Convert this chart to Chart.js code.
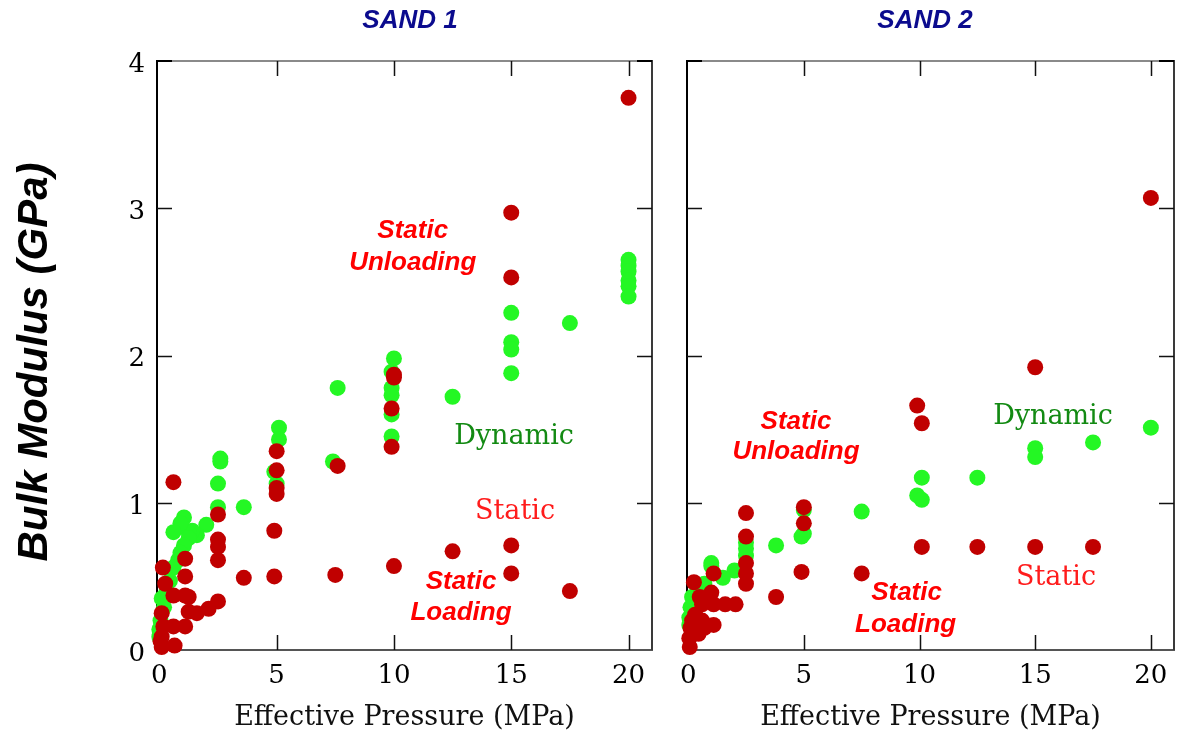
<!DOCTYPE html>
<html>
<head>
<meta charset="utf-8">
<script src="https://cdn.jsdelivr.net/npm/chart.js@4"></script>
<style>
  body { margin: 0; background: #fff; }
  #wrap { position: relative; width: 1182px; height: 739px; }
  canvas { position: absolute; top: 0; }
  #sand1 { left: 0; }
  #sand2 { left: 660px; }
</style>
</head>
<body>
<div id="wrap">
  <canvas id="sand1" width="660" height="739" style="width:660px;height:739px"></canvas>
  <canvas id="sand2" width="522" height="739" style="width:522px;height:739px"></canvas>
</div>
<script>
// tick values shared by both panels
const pressureTicks = [0, 5, 10, 15, 20];
const modulusTicks = [0, 1, 2, 3, 4];

// SAND 1 - dynamic bulk modulus (GPa) vs effective pressure (MPa)
const sand1DynP = [20, 20, 20, 20, 20, 20, 17.5, 15, 15, 15, 15, 12.5,
  10, 9.9, 9.9, 9.9, 9.9, 9.9, 7.6, 7.4, 5.1, 5.1, 4.9, 5.0, 3.6,
  2.6, 2.6, 2.5, 2.5, 2.0, 1.6, 1.4, 1.25, 1.25, 1.05, 1.05, 0.9, 0.9,
  0.6, 0.8, 0.6, 0.45, 0.3, 0.2, 0.1, 0.05, 0.0, 0.0];
const sand1DynK = [2.65, 2.61, 2.57, 2.51, 2.47, 2.40, 2.22, 2.29, 2.09, 2.04, 1.88, 1.72,
  1.98, 1.89, 1.78, 1.73, 1.60, 1.45, 1.78, 1.28, 1.51, 1.43, 1.21, 1.13, 0.97,
  1.30, 1.28, 1.13, 0.97, 0.85, 0.78, 0.81, 0.80, 0.76, 0.90, 0.71, 0.86, 0.66,
  0.80, 0.61, 0.56, 0.47, 0.39, 0.29, 0.35, 0.20, 0.14, 0.09];

// SAND 1 - static bulk modulus
const sand1StatP = [20, 15, 15, 15, 15, 17.5, 12.5,
  10, 10, 9.9, 9.9, 10, 7.6, 7.5,
  5.0, 5.0, 5.0, 5.0, 4.9, 4.9, 3.6,
  2.5, 2.5, 2.5, 2.5, 2.5, 2.1, 1.6, 1.25, 1.25,
  1.1, 1.1, 1.1, 1.1, 0.6, 0.6, 0.6, 0.65,
  0.25, 0.15, 0.1, 0.1, 0.1, 0.17, 0.05];
const sand1StatK = [3.75, 2.97, 2.53, 0.71, 0.52, 0.40, 0.67,
  1.87, 1.85, 1.64, 1.38, 0.57, 1.25, 0.51,
  1.35, 1.22, 1.10, 1.06, 0.81, 0.50, 0.49,
  0.92, 0.75, 0.70, 0.61, 0.33, 0.28, 0.25, 0.36, 0.26,
  0.62, 0.50, 0.37, 0.16, 1.14, 0.37, 0.16, 0.03,
  0.45, 0.56, 0.25, 0.09, 0.02, 0.16, 0.06];

// SAND 2 - dynamic bulk modulus
const sand2DynP = [20, 17.5, 15, 15, 12.5, 10.1, 9.9, 10.1, 7.5,
  5.0, 5.0, 4.9, 3.8, 2.5, 2.5, 2.5, 2.0, 1.5, 1.0, 1.0,
  0.7, 0.4, 0.17, 0.1, 0.05, 0.05];
const sand2DynK = [1.51, 1.41, 1.37, 1.31, 1.17, 1.17, 1.05, 1.02, 0.94,
  0.95, 0.79, 0.77, 0.71, 0.73, 0.69, 0.64, 0.54, 0.49, 0.59, 0.57,
  0.45, 0.40, 0.36, 0.29, 0.22, 0.17];

// SAND 2 - static bulk modulus
const sand2StatP = [20, 15, 15, 9.9, 10.1, 10.1, 12.5, 17.5, 7.5,
  5.0, 5.0, 4.9, 3.8, 2.5, 2.5, 2.5, 2.5, 2.5,
  2.05, 1.6, 1.1, 1.1, 1.1, 1.0, 0.6, 0.6, 0.5,
  0.25, 0.3, 0.17, 0.1, 0.7, 0.45, 0.05, 0.07];
const sand2StatK = [3.07, 1.92, 0.70, 1.66, 1.54, 0.70, 0.70, 0.70, 0.52,
  0.97, 0.86, 0.53, 0.36, 0.93, 0.77, 0.59, 0.52, 0.45,
  0.31, 0.31, 0.52, 0.31, 0.17, 0.39, 0.31, 0.20, 0.36,
  0.46, 0.24, 0.20, 0.15, 0.15, 0.11, 0.08, 0.02];

const GREEN = '#24f724';
const RED = '#c00000';
const SERIF = '"DejaVu Serif", serif';
const SANS = '"Liberation Sans", Arial, sans-serif';

const toPoints = (xs, ys) => xs.map((x, i) => ({ x, y: ys[i] }));

// box with inward ticks, drawn under the points
const framePlugin = {
  id: 'frame',
  beforeDatasetsDraw(chart) {
    const { ctx, chartArea: a, scales: { x, y } } = chart;
    const t = 15;
    ctx.save();
    ctx.lineCap = 'butt';
    ctx.lineWidth = 2;
    ctx.strokeStyle = '#8a8a8a';
    ctx.beginPath(); ctx.moveTo(a.left, a.top); ctx.lineTo(a.right, a.top); ctx.stroke();
    ctx.strokeStyle = '#555';
    ctx.beginPath(); ctx.moveTo(a.left, a.bottom); ctx.lineTo(a.right + 1, a.bottom); ctx.stroke();
    ctx.strokeStyle = '#3a3a3a';
    ctx.beginPath(); ctx.moveTo(a.right, a.top - 1); ctx.lineTo(a.right, a.bottom); ctx.stroke();
    ctx.strokeStyle = '#000';
    ctx.beginPath(); ctx.moveTo(a.left, a.top - 1); ctx.lineTo(a.left, a.bottom); ctx.stroke();
    // dark corner pieces on the top edge
    ctx.beginPath();
    ctx.moveTo(a.left, a.top); ctx.lineTo(a.left + t, a.top);
    ctx.moveTo(a.right - t, a.top); ctx.lineTo(a.right, a.top);
    ctx.stroke();

    ctx.lineWidth = 1.5;
    ctx.strokeStyle = '#111';
    ctx.beginPath();
    pressureTicks.slice(1).forEach(v => {
      const px = Math.round(x.getPixelForValue(v)) + 0.5;
      ctx.moveTo(px, a.bottom); ctx.lineTo(px, a.bottom - t);
      ctx.moveTo(px, a.top); ctx.lineTo(px, a.top + t);
    });
    modulusTicks.slice(1, -1).forEach(v => {
      const py = Math.round(y.getPixelForValue(v)) + 0.5;
      ctx.moveTo(a.left, py); ctx.lineTo(a.left + t, py);
      ctx.moveTo(a.right, py); ctx.lineTo(a.right - t, py);
    });
    ctx.stroke();
    ctx.restore();
  },
  afterDraw(chart, args, opts) {
    const { ctx, scales: { x, y } } = chart;
    ctx.save();
    ctx.textAlign = 'center';
    ctx.textBaseline = 'middle';
    // panel title
    ctx.font = 'bold italic 26px ' + SANS;
    ctx.fillStyle = '#0b0b8e';
    ctx.fillText(opts.title, opts.titleX, 21);
    // curve labels placed in data units
    opts.labels.forEach(l => {
      ctx.font = l.font;
      ctx.fillStyle = l.color;
      ctx.fillText(l.text, x.getPixelForValue(l.x), y.getPixelForValue(l.y));
    });
    if (opts.yTitle) {
      ctx.translate(35, 362);
      ctx.rotate(-Math.PI / 2);
      ctx.font = 'bold italic 42px ' + SANS;
      ctx.fillStyle = '#000';
      ctx.fillText(opts.yTitle, 0, 0);
    }
    ctx.restore();
  }
};

const boldRed = 'bold italic 26px ' + SANS;
const serifFont = '27px ' + SERIF;

function makePanel(id, o) {
  return new Chart(document.getElementById(id), {
    type: 'scatter',
    data: {
      datasets: [
        { label: 'Dynamic', data: toPoints(o.dynP, o.dynK), backgroundColor: GREEN, order: 2,
          pointRadius: 8, pointBorderWidth: 0, pointHoverRadius: 8 },
        { label: 'Static', data: toPoints(o.statP, o.statK), backgroundColor: RED, order: 1,
          pointRadius: 8, pointBorderWidth: 0, pointHoverRadius: 8 }
      ]
    },
    options: {
      responsive: false,
      animation: false,
      clip: false,
      layout: { padding: { left: 0, right: o.padRight, top: 61, bottom: 5 } },
      plugins: {
        legend: { display: false },
        tooltip: { enabled: false },
        frame: { title: o.title, titleX: o.titleX, labels: o.labels, yTitle: o.yTitle }
      },
      scales: {
        x: {
          type: 'linear',
          min: o.xMin,
          max: 21,
          afterBuildTicks: s => { s.ticks = pressureTicks.map(v => ({ value: v })); },
          afterFit: s => { s.height = 84; },
          grid: { display: false, drawTicks: false },
          border: { display: false },
          ticks: { color: '#000', padding: 11, font: { family: SERIF, size: 26 } },
          title: {
            display: true, text: 'Effective Pressure (MPa)', color: '#111',
            font: { family: SERIF, size: 27 }, padding: 0
          }
        },
        y: {
          min: 0,
          max: 4,
          afterBuildTicks: s => { s.ticks = modulusTicks.map(v => ({ value: v })); },
          afterFit: s => { s.width = o.yWidth; },
          grid: { display: false, drawTicks: false },
          border: { display: false },
          ticks: { display: o.yLabels, color: '#000', padding: 12, labelOffset: 4,
            font: { family: SERIF, size: 26 } }
        }
      }
    },
    plugins: [framePlugin]
  });
}

makePanel('sand1', {
  dynP: sand1DynP, dynK: sand1DynK, statP: sand1StatP, statK: sand1StatK,
  xMin: -0.1, yWidth: 157, padRight: 8, yLabels: true,
  title: 'SAND 1', titleX: 410, yTitle: 'Bulk Modulus (GPa)',
  labels: [
    { text: 'Static', x: 10.8, y: 2.85, font: boldRed, color: '#ff0000' },
    { text: 'Unloading', x: 10.8, y: 2.63, font: boldRed, color: '#ff0000' },
    { text: 'Dynamic', x: 15.12, y: 1.45, font: serifFont, color: '#138a13' },
    { text: 'Static', x: 15.16, y: 0.94, font: serifFont, color: '#ff1c1c' },
    { text: 'Static', x: 12.86, y: 0.46, font: boldRed, color: '#ff0000' },
    { text: 'Loading', x: 12.86, y: 0.25, font: boldRed, color: '#ff0000' }
  ]
});

makePanel('sand2', {
  dynP: sand2DynP, dynK: sand2DynK, statP: sand2StatP, statK: sand2StatK,
  xMin: -0.05, yWidth: 27, padRight: 2, yLabels: false,
  title: 'SAND 2', titleX: 265, yTitle: null,
  labels: [
    { text: 'Static', x: 4.66, y: 1.55, font: boldRed, color: '#ff0000' },
    { text: 'Unloading', x: 4.66, y: 1.345, font: boldRed, color: '#ff0000' },
    { text: 'Dynamic', x: 15.77, y: 1.58, font: serifFont, color: '#138a13' },
    { text: 'Static', x: 15.9, y: 0.49, font: serifFont, color: '#ff1c1c' },
    { text: 'Static', x: 9.44, y: 0.39, font: boldRed, color: '#ff0000' },
    { text: 'Loading', x: 9.40, y: 0.17, font: boldRed, color: '#ff0000' }
  ]
});
</script>
</body>
</html>
